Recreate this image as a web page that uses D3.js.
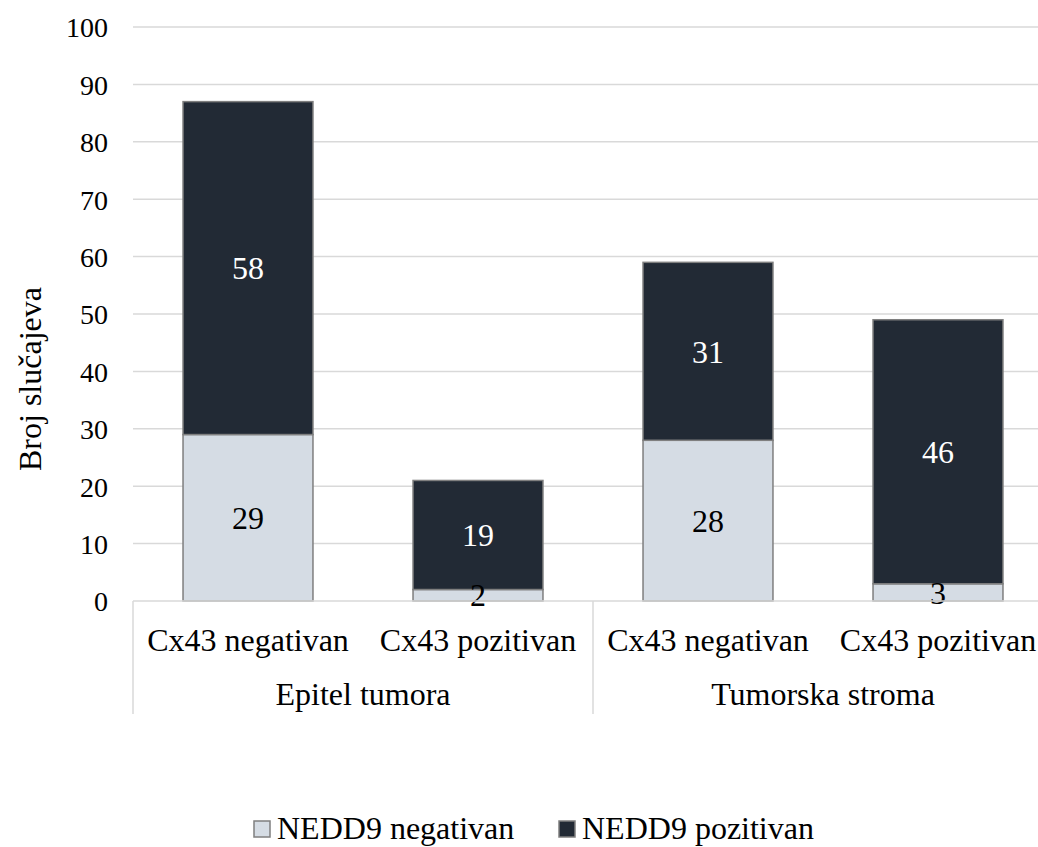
<!DOCTYPE html>
<html><head><meta charset="utf-8">
<script src="https://cdn.jsdelivr.net/npm/d3@7"></script>
<style>body{margin:0;background:#fff;} svg{display:block;}</style>
</head><body>
<svg id="c" width="1038" height="847" style="font-family:'Liberation Serif','Times New Roman',Times,serif"></svg>
<script>
const groups = ["Epitel tumora", "Tumorska stroma"];
const categories = ["Cx43 negativan", "Cx43 pozitivan", "Cx43 negativan", "Cx43 pozitivan"];
const seriesNames = ["NEDD9 negativan", "NEDD9 pozitivan"];
const negativan = [29, 2, 28, 3];
const pozitivan = [58, 19, 31, 46];
const yTicks = [0, 10, 20, 30, 40, 50, 60, 70, 80, 90, 100];
const colors = ["#D5DCE4", "#222A35"];

(function () {
const FF = "'Liberation Serif','Times New Roman',Times,serif";
const svg = d3.select("#c");
const pL = 133, pR = 1053, pT = 27, pB = 601;
const x = d3.scaleBand().domain(d3.range(categories.length)).range([pL, pR]).paddingInner(0.435).paddingOuter(0.2175);
const y = d3.scaleLinear().domain([0, 100]).range([pB, pT]);

svg.append("g").selectAll("line").data(yTicks.filter(d => d > 0)).join("line")
  .attr("x1", pL).attr("x2", pR).attr("y1", d => y(d)).attr("y2", d => y(d))
  .attr("stroke", "#D9D9D9").attr("stroke-width", 1.5);

const yAxis = d3.axisLeft(y).tickValues(yTicks).tickSize(0).tickPadding(25);
const ya = svg.append("g").attr("transform", `translate(${pL},0)`).call(yAxis);
ya.attr("font-family", null).attr("font-size", null);
ya.select(".domain").remove();
ya.selectAll("text").style("font-family", FF).style("font-size", "28px").attr("fill", "#000").attr("dy", "0.35em");

const stackData = categories.map((c, i) => ({i, neg: negativan[i], pos: pozitivan[i]}));
const stack = d3.stack().keys(["neg", "pos"])(stackData);
const bw = x.bandwidth();
stack.forEach((layer, li) => {
  svg.append("g").selectAll("rect").data(layer).join("rect")
    .attr("x", d => x(d.data.i)).attr("width", bw)
    .attr("y", d => y(d[1])).attr("height", d => y(d[0]) - y(d[1]))
    .attr("fill", colors[li]).attr("stroke", "#7F7F7F").attr("stroke-width", 1.5);
});
stack.forEach((layer, li) => {
  svg.append("g").selectAll("text").data(layer).join("text")
    .attr("x", d => x(d.data.i) + bw / 2)
    .attr("y", d => (y(d[0]) + y(d[1])) / 2)
    .attr("dy", "0.35em").attr("text-anchor", "middle")
    .style("font-family", FF).style("font-size", "32px")
    .style("fill", li === 0 ? "#000" : "#fff")
    .text(d => d[1] - d[0]);
});

svg.append("line").attr("x1", pL).attr("x2", pR).attr("y1", pB).attr("y2", pB)
  .attr("stroke", "#D9D9D9").attr("stroke-width", 1.5);
[0, 2, 4].forEach(k => {
  const sx = pL + (pR - pL) * k / 4;
  svg.append("line").attr("x1", sx).attr("x2", sx).attr("y1", pB).attr("y2", 714)
    .attr("stroke", "#D9D9D9").attr("stroke-width", 1.5);
});

svg.append("g").selectAll("text").data(categories).join("text")
  .attr("x", (d, i) => x(i) + bw / 2).attr("y", 640).attr("dy", "0.35em")
  .attr("text-anchor", "middle").style("font-family", FF).style("font-size", "32px").text(d => d);
svg.append("g").selectAll("text").data(groups).join("text")
  .attr("x", (d, g) => pL + (pR - pL) * (2 * g + 1) / 4).attr("y", 694).attr("dy", "0.35em")
  .attr("text-anchor", "middle").style("font-family", FF).style("font-size", "32px").text(d => d);

svg.append("text").attr("transform", "translate(30,379) rotate(-90)").attr("dy", "0.35em")
  .attr("text-anchor", "middle").style("font-family", FF).style("font-size", "32px").text("Broj slučajeva");

const legX = [254, 559];
seriesNames.forEach((s, i) => {
  svg.append("rect").attr("x", legX[i]).attr("y", 821).attr("width", 16).attr("height", 16)
    .attr("fill", colors[i]).attr("stroke", "#7F7F7F").attr("stroke-width", 1.5);
  svg.append("text").attr("x", legX[i] + 23).attr("y", 828).attr("dy", "0.35em")
    .style("font-family", FF).style("font-size", "32px").text(s);
});
})();
</script>
</body></html>
